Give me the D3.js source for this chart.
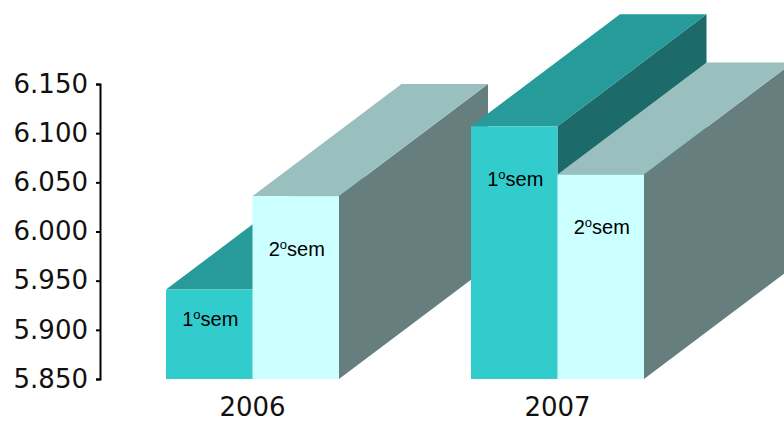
<!DOCTYPE html>
<html>
<head>
<meta charset="utf-8">
<script src="https://cdn.jsdelivr.net/npm/d3@7"></script>
<style>
  body { margin: 0; background: #fff; }
  svg { display: block; }
</style>
</head>
<body>
<div id="chart"></div>
<script>
const years      = ["2006", "2007"];
const semesters  = ["1", "2"];
const values     = [[5.941, 6.036],   // 2006: 1ºsem, 2ºsem
                    [6.107, 6.058]];  // 2007
const tickValues = [5.85, 5.90, 5.95, 6.00, 6.05, 6.10, 6.15];

const width   = 784;
const height  = 421;
const depthX  = 149;
const depthY  = -112;
const colors  = {
  "1": { front: "#33cccc", top: "#279a9a", side: "#1c6a6a" },
  "2": { front: "#ccffff", top: "#99c0bf", side: "#667f7e" }
};

const svg = d3.select("#chart").append("svg")
              .attr("width", width)
              .attr("height", height);

const y  = d3.scaleLinear().domain([5.85, 6.15]).range([379, 84]);
const x0 = d3.scaleBand().domain(years).range([100, 710])
             .paddingInner(0.4328).paddingOuter(0.2164);
const x1 = d3.scaleBand().domain(semesters).range([0, x0.bandwidth()]);

// bars, drawn back to front (left to right)
const bars = [];
years.forEach((yr, i) => {
  semesters.forEach((s, j) => {
    bars.push({ year: yr, sem: s, value: values[i][j] });
  });
});

const base = y.range()[0];
const g = svg.append("g");

bars.forEach(d => {
  const bx  = x0(d.year) + x1(d.sem);
  const bw  = x1.bandwidth();
  const top = y(d.value);
  const c   = colors[d.sem];
  const box = g.append("g");

  box.append("polygon")
     .attr("points", [[bx + bw, top], [bx + bw + depthX, top + depthY],
                      [bx + bw + depthX, base + depthY], [bx + bw, base]].join(" "))
     .attr("fill", c.side);
  box.append("polygon")
     .attr("points", [[bx, top], [bx + bw, top],
                      [bx + bw + depthX, top + depthY], [bx + depthX, top + depthY]].join(" "))
     .attr("fill", c.top);
  box.append("rect")
     .attr("x", bx).attr("y", top)
     .attr("width", bw).attr("height", base - top)
     .attr("fill", c.front);

  const ly = Math.min(top + 60, (top + base) / 2 - 8);
  const t = box.append("text")
     .attr("x", bx + bw / 2 + 1)
     .attr("y", ly)
     .attr("text-anchor", "middle")
     .attr("font-family", "Liberation Sans, Arial, sans-serif")
     .attr("font-size", 20)
     .attr("fill", "#000");
  t.append("tspan").text(d.sem);
  t.append("tspan").attr("font-size", 13).attr("dy", -7).text("o");
  t.append("tspan").attr("dy", 7).text("sem");
});

// y axis
const axis = svg.append("g")
  .attr("transform", "translate(100,0)")
  .call(d3.axisLeft(y)
          .tickValues(tickValues)
          .tickSize(4)
          .tickPadding(8)
          .tickFormat(d3.format(".3f")));
axis.select(".domain").attr("stroke", "#000").attr("stroke-width", 2);
axis.selectAll(".tick line").attr("stroke", "#000").attr("stroke-width", 2);
axis.selectAll(".tick text")
    .attr("font-family", "DejaVu Sans, Verdana, sans-serif")
    .attr("font-size", 26)
    .attr("fill", "#111");

// year labels
svg.append("g").selectAll("text")
   .data(years)
   .join("text")
   .attr("x", d => x0(d) + x0.bandwidth() / 2)
   .attr("y", 416)
   .attr("text-anchor", "middle")
   .attr("font-family", "DejaVu Sans, Verdana, sans-serif")
   .attr("font-size", 26)
   .attr("fill", "#111")
   .text(d => d);
</script>
</body>
</html>
